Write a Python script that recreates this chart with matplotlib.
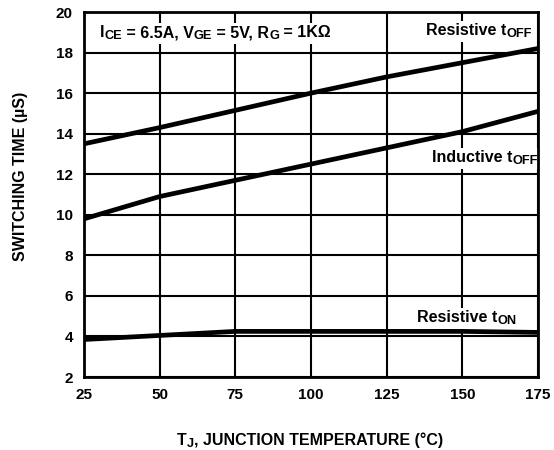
import matplotlib
matplotlib.use("Agg")
import matplotlib.pyplot as plt
from matplotlib.patches import Rectangle
from matplotlib.transforms import Bbox

# Junction temperature (°C) and switching times (µs)
temps = [25, 50, 75, 100, 125, 150, 175]
resistive_toff = [13.5, 14.3, 15.15, 16.0, 16.8, 17.5, 18.2]
inductive_toff = [9.8, 10.9, 11.7, 12.5, 13.3, 14.1, 15.1]
resistive_ton = [3.85, 4.05, 4.25, 4.25, 4.25, 4.25, 4.2]

x_ticks = [25, 50, 75, 100, 125, 150, 175]
y_ticks = [2, 4, 6, 8, 10, 12, 14, 16, 18, 20]

plt.rcParams["font.family"] = ["Liberation Sans", "DejaVu Sans"]
plt.rcParams["font.weight"] = "bold"

fig = plt.figure(figsize=(5.54, 4.5), dpi=100)
ax = fig.add_axes([0.1516, 0.1622, 0.8194, 0.8111])

labels = []


def sub_label(x, y, parts, size, boxed=True):
    """Draw text made of (string, is_subscript) pieces, left to right."""
    first = ax.annotate(parts[0][0], xy=(x, y), xycoords="figure fraction",
                        ha="left", va="baseline", fontsize=size,
                        fontweight="bold", zorder=4, annotation_clip=False)
    pieces = [first]
    prev = first
    for text, is_sub in parts[1:]:
        if is_sub:
            t = ax.annotate(text, xy=(1, 0), xycoords=(prev, first),
                            xytext=(0, 0.4), textcoords="offset points",
                            ha="left", va="baseline", fontsize=size * 0.8,
                            fontweight="bold", zorder=4, annotation_clip=False)
        else:
            t = ax.annotate(text, xy=(1, 0), xycoords=(prev, first),
                            ha="left", va="bottom", fontsize=size,
                            fontweight="bold", zorder=4, annotation_clip=False)
        pieces.append(t)
        prev = t
    if boxed:
        labels.append(pieces)


ax.set_xlim(25, 175)
ax.set_ylim(2, 20)
ax.set_xticks(x_ticks)
ax.set_yticks(y_ticks)
ax.grid(True, color="black", linewidth=1.5, zorder=1)
ax.set_axisbelow(True)
for s in ax.spines.values():
    s.set_linewidth(2)
    s.set_zorder(5)
ax.tick_params(length=0, labelsize=11, pad=8)
for lab in ax.get_xticklabels() + ax.get_yticklabels():
    lab.set_fontweight("bold")

lw = 3.4
for series in (resistive_toff, inductive_toff, resistive_ton):
    ax.plot(temps, series, color="black", linewidth=lw, solid_capstyle="butt",
            zorder=3, clip_on=False)

W, H = 554.0, 450.0


def fpos(xp, yp):
    return xp / W, 1 - yp / H


size = 11.5
sub_label(*fpos(100, 37), [("I", False), ("CE", True), (" = 6.5A, V", False),
                           ("GE", True), (" = 5V, R", False), ("G", True),
                           (" = 1KΩ", False)], size)
sub_label(*fpos(426, 35), [("Resistive t", False), ("OFF", True)], size)
sub_label(*fpos(432, 162), [("Inductive t", False), ("OFF", True)], size)
sub_label(*fpos(417, 322), [("Resistive t", False), ("ON", True)], size)

sub_label(*fpos(177, 445), [("T", False), ("J", True),
                            (", JUNCTION TEMPERATURE (°C)", False)], 11.5,
          boxed=False)
fig.text(21 / W, 1 - 176 / H, "SWITCHING TIME (µS)", ha="center", va="center",
         rotation=90, fontsize=11.5, fontweight="bold")

# white backing behind the in-plot labels so the grid stops at the text
fig.canvas.draw()
renderer = fig.canvas.get_renderer()
to_fig = fig.transFigure.inverted()
for pieces in labels:
    bb = Bbox.union([p.get_window_extent(renderer) for p in pieces])
    bb = bb.padded(2)
    fb = to_fig.transform_bbox(bb)
    ax.add_patch(Rectangle((fb.x0, fb.y0), fb.width, fb.height,
                           transform=fig.transFigure, facecolor="white",
                           edgecolor="none", zorder=3.5, clip_on=False))

fig.savefig("out.png", dpi=100)
